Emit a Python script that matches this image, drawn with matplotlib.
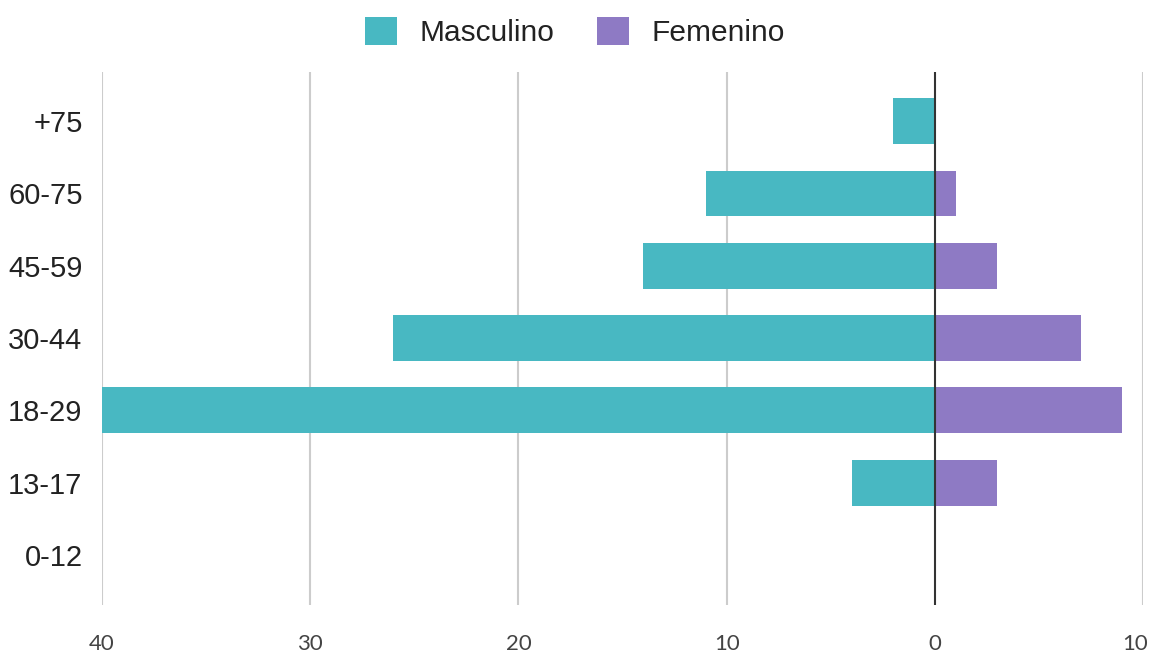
import matplotlib
matplotlib.use("Agg")
import matplotlib.pyplot as plt
import matplotlib.transforms as mtransforms
from matplotlib.patches import Patch

categories = ["+75", "60-75", "45-59", "30-44", "18-29", "13-17", "0-12"]
masculino = [2, 11, 14, 26, 40, 4, 0]
femenino = [0, 1, 3, 7, 9, 3, 0]
xticks = [-40, -30, -20, -10, 0, 10]
xticklabels = ["40", "30", "20", "10", "0", "10"]

teal = "#48B8C2"
purple = "#8E7AC4"

fig = plt.figure(figsize=(11.49, 6.57), dpi=100)
ax = fig.add_axes([102/1149, 1-605/657, (1143-102)/1149, (605-72)/657])

ypos = list(range(len(categories)))
ax.barh(ypos, [-m for m in masculino], height=0.635, color=teal, zorder=3)
ax.barh(ypos, femenino, height=0.635, color=purple, zorder=3)

ax.set_xlim(-40, 10)
ax.set_ylim(6.69, -0.68)
ax.set_xticks(xticks)
ax.set_xticklabels(xticklabels, fontsize=16, color="#444444", family="Lato")
ax.set_yticks(ypos)
ax.set_yticklabels(categories, fontsize=21, color="#222222", family="Liberation Sans")
ax.tick_params(axis="both", length=0)
ax.tick_params(axis="x", pad=21)
ax.tick_params(axis="y", pad=14)
last = ax.get_xticklabels()[-1]
last.set_transform(last.get_transform() + mtransforms.ScaledTranslation(-8/100, 0, fig.dpi_scale_trans))
for x in xticks:
    if x != 0:
        ax.axvline(x, color="#cccccc", linewidth=1.5, zorder=1)
ax.axvline(0, color="#333333", linewidth=1.5, zorder=4)
for s in ax.spines.values():
    s.set_visible(False)

handles = [Patch(facecolor=teal, label="Masculino"), Patch(facecolor=purple, label="Femenino")]
fig.legend(handles=handles, loc="center", bbox_to_anchor=(575/1149, 1-32/657), ncol=2,
           frameon=False, prop={"family": "Liberation Sans", "size": 21.5},
           labelcolor="#222222",
           handlelength=1.05, handleheight=1.05, columnspacing=1.45, handletextpad=0.75)

fig.savefig("out.png", dpi=100)
